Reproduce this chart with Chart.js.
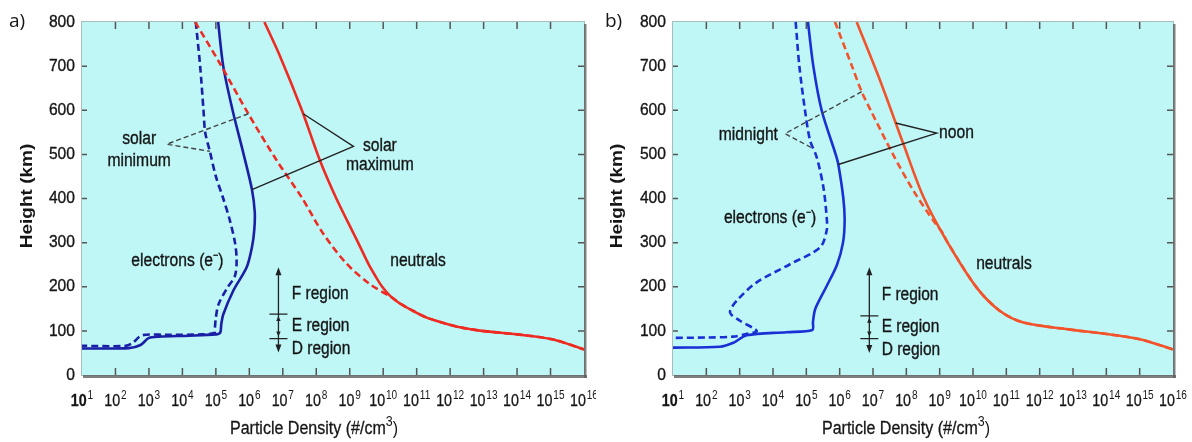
<!DOCTYPE html>
<html lang="pt">
<head>
<meta charset="utf-8">
<title>Densidade de partículas</title>
<script src="https://cdn.jsdelivr.net/npm/chart.js@4.4.1/dist/chart.umd.min.js"></script>
<style>
  body { margin: 0; background: #ffffff; }
  .painel { position: absolute; top: 0; width: 596px; height: 442px; }
</style>
</head>
<body>
<div class="painel" style="left:0px"><canvas id="graficoA" width="596" height="442"></canvas></div>
<div class="painel" style="left:596px"><canvas id="graficoB" width="596" height="442"></canvas></div>
<script>
// eixo x: expoentes das décadas; eixo y: altura (km)
var expoentesX = [1, 2, 3, 4, 5, 6, 7, 8, 9, 10, 11, 12, 13, 14, 15, 16];
var alturasY = [0, 100, 200, 300, 400, 500, 600, 700, 800];

// a) máximo solar / mínimo solar
var altEletronMax = [800, 700, 600, 500, 420, 370, 330, 290, 244, 191, 137, 115, 96, 92, 89, 87, 84, 68, 61, 60];
var densEletronMax = [1.17e5, 1.66e5, 3.16e5, 6.76e5, 1.2e6, 1.45e6, 1.41e6, 1.2e6, 8.32e5, 3.31e5, 1.66e5, 1.45e5, 1.35e5, 1.0e5, 1.58e4, 2.0e3, 1.0e3, 5.62e2, 2.51e2, 1e1];
var altEletronMin = [800, 700, 600, 550, 507, 450, 400, 350, 300, 262, 225, 195, 160, 130, 105, 96, 92, 91, 90, 72, 66, 66];
var densEletronMin = [2.51e4, 3.39e4, 4.27e4, 4.79e4, 6.61e4, 1.0e5, 1.66e5, 2.63e5, 3.72e5, 4.17e5, 3.72e5, 2.09e5, 1.2e5, 1.0e5, 9.33e4, 9.12e4, 3.98e4, 3.16e3, 6.31e2, 3.16e2, 2.0e2, 1e1];
var altNeutroMax = [800, 722, 600, 486, 400, 300, 250, 220, 200, 180, 162, 145, 130, 118, 108, 100, 92, 81, 58];
var densNeutroMax = [2.82e6, 8.32e6, 3.72e7, 1.29e8, 3.98e8, 1.78e9, 3.72e9, 6.31e9, 9.33e9, 1.58e10, 3.16e10, 7.94e10, 2.0e11, 6.31e11, 2.0e12, 8.9e12, 1.0e14, 1.12e15, 1e16];
var altNeutroMin = [800, 706, 592, 486, 403, 320, 252, 206, 176, 160, 145, 130, 118, 108, 100, 92, 81, 58];
var densNeutroMin = [2.4e4, 1.32e5, 9.33e5, 6.61e6, 3.63e7, 1.62e8, 8.13e8, 3.98e9, 1.78e10, 3.55e10, 7.94e10, 2.0e11, 6.31e11, 2.0e12, 8.9e12, 1.0e14, 1.12e15, 1e16];

// b) meio-dia / meia-noite
var altEletronDia = [800, 700, 600, 500, 477, 400, 350, 300, 250, 200, 150, 120, 102, 97, 90, 73, 64, 62];
var densEletronDia = [1.12e5, 1.62e5, 2.88e5, 7.59e5, 9.12e5, 1.29e6, 1.41e6, 1.26e6, 8.32e5, 3.98e5, 1.86e5, 1.58e5, 1.51e5, 2.57e4, 1.62e3, 6.46e2, 2.51e2, 1e1];
var altEletronNoite = [800, 700, 600, 532, 494, 426, 358, 327, 289, 251, 210, 168, 142, 123, 100, 93, 87, 85, 84];
var densEletronNoite = [4.79e4, 6.17e4, 9.12e4, 1.29e5, 2.04e5, 3.24e5, 4.07e5, 4.07e5, 2.57e5, 3.24e4, 3.24e3, 8.13e2, 5.13e2, 1.02e3, 3.24e3, 1.58e3, 6.31e2, 1e2, 1e1];
var altNeutroDia = [800, 668, 524, 404, 304, 198, 145, 119, 104, 93, 81, 58];
var densNeutroDia = [3.24e6, 1.62e7, 8.13e7, 3.24e8, 1.62e9, 1.29e10, 6.46e10, 3.24e11, 6.46e12, 1.02e14, 1.02e15, 1e16];
var altNeutroNoite = [800, 700, 642, 600, 500, 418, 350, 320, 304, 198, 145, 119, 104, 93, 81, 58];
var densNeutroNoite = [7.24e5, 2.34e6, 4.57e6, 8.51e6, 3.98e7, 1.62e8, 6.46e8, 1.29e9, 1.62e9, 1.29e10, 6.46e10, 3.24e11, 6.46e12, 1.02e14, 1.02e15, 1e16];

var fonte = '"Liberation Sans", Arial, sans-serif';
var corFundo = '#bff7f7';
var corTexto = '#161616';

function serie(alturas, densidades, cor, tracejado) {
    var pontos = [];
    for (var i = 0; i < alturas.length; i++) {
        pontos.push({ x: densidades[i], y: alturas[i] });
    }
    return {
        data: pontos,
        borderColor: cor,
        borderWidth: 2.6,
        borderDash: tracejado ? [7, 4] : [],
        pointRadius: 0,
        tension: 0.3,
        fill: false
    };
}

// texto com compressão horizontal (e um contorno fino para engrossar)
function texto(ctx, s, x, y, tam, alinhar, esc, peso) {
    ctx.save();
    ctx.font = (peso || '') + ' ' + tam + 'px ' + fonte;
    ctx.textBaseline = 'middle';
    ctx.textAlign = 'left';
    var w = ctx.measureText(s).width * esc;
    var x0 = x;
    if (alinhar == 'center') x0 = x - w / 2;
    if (alinhar == 'right') x0 = x - w;
    ctx.translate(x0, y);
    ctx.scale(esc, 1);
    ctx.fillStyle = corTexto;
    ctx.strokeStyle = corTexto;
    ctx.lineWidth = 0.35;
    ctx.fillText(s, 0, 0);
    ctx.strokeText(s, 0, 0);
    ctx.restore();
}

function rotuloX(ctx, px, y, n) {
    var esc = 0.84;
    ctx.save();
    ctx.font = (n == 1 ? 'bold ' : '') + '17px ' + fonte;
    var wb = ctx.measureText('10').width;
    ctx.font = '12px ' + fonte;
    var we = ctx.measureText(String(n)).width;
    var total = (wb + we + 1) * esc;
    ctx.translate(px - total / 2, y);
    ctx.scale(esc, 1);
    ctx.textBaseline = 'alphabetic';
    ctx.fillStyle = corTexto;
    ctx.strokeStyle = corTexto;
    ctx.lineWidth = 0.3;
    ctx.font = (n == 1 ? 'bold ' : '') + '17px ' + fonte;
    ctx.fillText('10', 0, 0);
    ctx.strokeText('10', 0, 0);
    ctx.font = '12px ' + fonte;
    ctx.fillText(String(n), wb + 1, -7);
    ctx.restore();
}

function seta(ctx, x, y, dir, meia, alt) {
    ctx.beginPath();
    ctx.moveTo(x, y);
    ctx.lineTo(x - meia, y - dir * alt);
    ctx.lineTo(x + meia, y - dir * alt);
    ctx.closePath();
    ctx.fill();
}

function desenhaNotas(chart, notas) {
    var ctx = chart.ctx;
    var sx = chart.scales.x, sy = chart.scales.y;
    var px = function (v) { return sx.getPixelForValue(v); };
    var py = function (v) { return sy.getPixelForValue(v); };

    ctx.save();
    // linhas de chamada
    notas.chamadas.forEach(function (c) {
        ctx.beginPath();
        ctx.strokeStyle = c.tracejada ? '#444' : '#222';
        ctx.lineWidth = 1.4;
        ctx.setLineDash(c.tracejada ? [5, 3] : []);
        ctx.moveTo(px(c.ponta[0]), py(c.ponta[1]));
        ctx.lineTo(px(c.vertice[0]), py(c.vertice[1]));
        ctx.lineTo(px(c.outra[0]), py(c.outra[1]));
        ctx.stroke();
    });
    ctx.setLineDash([]);

    notas.textos.forEach(function (t) {
        texto(ctx, t.s, px(t.x), py(t.y), 18, t.al, 0.87);
    });

    // regiões F, E, D
    var r = notas.regiao;
    var xr = px(r.x);
    ctx.strokeStyle = '#222';
    ctx.fillStyle = '#222';
    ctx.lineWidth = 1.3;
    ctx.beginPath();
    ctx.moveTo(xr, py(r.topo) + 4);
    ctx.lineTo(xr, py(r.base) - 4);
    r.cortes.forEach(function (h) {
        ctx.moveTo(xr - 9, py(h));
        ctx.lineTo(xr + 9, py(h));
    });
    ctx.stroke();
    seta(ctx, xr, py(r.topo), -1, 3, 8);
    seta(ctx, xr, py(r.base), 1, 3, 8);
    seta(ctx, xr, py(r.cortes[0]) + 2, -1, 2.2, 5);
    seta(ctx, xr, py(r.cortes[1]) - 2, 1, 2.2, 5);
    texto(ctx, 'F region', px(r.xt), py(r.f), 18, 'left', 0.86);
    texto(ctx, 'E region', px(r.xt), py(r.e), 18, 'left', 0.86);
    texto(ctx, 'D region', px(r.xt), py(r.d), 18, 'left', 0.86);
    ctx.restore();
}

function desenhaMoldura(chart, cfg) {
    var ctx = chart.ctx;
    var a = chart.chartArea;
    var sx = chart.scales.x, sy = chart.scales.y;
    var w = a.right - a.left, h = a.bottom - a.top;

    ctx.save();
    ctx.strokeStyle = '#a9bcbc';
    ctx.lineWidth = 1;
    ctx.strokeRect(a.left - 0.5, a.top - 0.5, w + 1, h + 1);
    ctx.fillStyle = 'rgba(95,95,95,0.8)';
    ctx.fillRect(a.right, a.top + 2, 2.5, h + 1);
    ctx.fillRect(a.left + 1, a.bottom, w + 2, 3);

    // marcas internas
    ctx.strokeStyle = '#555';
    ctx.lineWidth = 1.5;
    ctx.beginPath();
    expoentesX.forEach(function (n) {
        if (n == 1 || n == 16) return;
        var x = sx.getPixelForValue(Math.pow(10, n));
        ctx.moveTo(x, a.top); ctx.lineTo(x, a.top + 7);
        ctx.moveTo(x, a.bottom); ctx.lineTo(x, a.bottom - 7);
    });
    alturasY.forEach(function (v) {
        if (v == 0 || v == 800) return;
        var y = sy.getPixelForValue(v);
        ctx.moveTo(a.left, y); ctx.lineTo(a.left + 5, y);
        ctx.moveTo(a.right, y); ctx.lineTo(a.right - 6, y);
    });
    ctx.stroke();

    // rótulos dos eixos
    alturasY.forEach(function (v) {
        texto(ctx, String(v), a.left - 7, sy.getPixelForValue(v), 17, 'right', 0.92);
    });
    expoentesX.forEach(function (n) {
        rotuloX(ctx, sx.getPixelForValue(Math.pow(10, n)), 406, n);
    });

    ctx.fillStyle = corTexto;
    // título do eixo y
    ctx.save();
    ctx.translate(cfg.tituloY, 196);
    ctx.rotate(-Math.PI / 2);
    ctx.scale(1, 0.85);
    ctx.font = 'bold 19px ' + fonte;
    ctx.textAlign = 'center';
    ctx.textBaseline = 'middle';
    ctx.fillText('Height (km)', 0, 0);
    ctx.restore();

    // título do eixo x com expoente
    ctx.save();
    var esc = 0.89;
    ctx.font = '18px ' + fonte;
    var p1 = 'Particle Density (#/cm';
    var w1 = ctx.measureText(p1).width;
    ctx.font = '14px ' + fonte;
    var w2 = ctx.measureText('3').width;
    ctx.font = '18px ' + fonte;
    var w3 = ctx.measureText(')').width;
    var total = (w1 + w2 + w3) * esc;
    ctx.translate(cfg.tituloX - total / 2, 434);
    ctx.scale(esc, 1);
    ctx.textBaseline = 'alphabetic';
    ctx.strokeStyle = corTexto;
    ctx.lineWidth = 0.3;
    ctx.fillText(p1, 0, 0);
    ctx.strokeText(p1, 0, 0);
    ctx.fillText(')', w1 + w2, 0);
    ctx.font = '14px ' + fonte;
    ctx.fillText('3', w1, -8);
    ctx.restore();

    // letra do painel
    ctx.font = '19px "Open Sans", ' + fonte;
    ctx.textBaseline = 'middle';
    ctx.textAlign = 'left';
    ctx.fillText(cfg.letra, 9, 22);
    ctx.restore();
}

function criarGrafico(id, series, cfg, notas) {
    var fundo = {
        id: 'fundo',
        beforeDatasetsDraw: function (chart) {
            var a = chart.chartArea;
            chart.ctx.save();
            chart.ctx.fillStyle = corFundo;
            chart.ctx.fillRect(a.left, a.top, a.right - a.left, a.bottom - a.top);
            chart.ctx.restore();
        },
        afterDatasetsDraw: function (chart) {
            desenhaNotas(chart, notas);
            desenhaMoldura(chart, cfg);
        }
    };
    return new Chart(document.getElementById(id).getContext('2d'), {
        type: 'line',
        data: { datasets: series },
        options: {
            responsive: false,
            animation: false,
            events: [],
            layout: { padding: { left: cfg.esq, right: cfg.dir, top: 22, bottom: 67 } },
            scales: {
                x: { type: 'logarithmic', min: 1e1, max: 1e16, display: false },
                y: { type: 'linear', min: 0, max: 800, display: false }
            },
            plugins: { legend: { display: false }, tooltip: { enabled: false } }
        },
        plugins: [fundo]
    });
}

var azulA = '#1a1fa6', vermelhoA = '#ee2b22';
var azulB = '#1a30d4', vermelhoB = '#f2532b';

criarGrafico('graficoA', [
    serie(altNeutroMin, densNeutroMin, vermelhoA, true),
    serie(altNeutroMax, densNeutroMax, vermelhoA, false),
    serie(altEletronMin, densEletronMin, azulA, true),
    serie(altEletronMax, densEletronMax, azulA, false)
], { esq: 82, dir: 12, tituloY: 28, tituloX: 314, letra: 'a)' }, {
    chamadas: [
        { tracejada: true, ponta: [9.33e5, 592], vertice: [3.39e3, 523], outra: [6.61e4, 507] },
        { tracejada: false, ponta: [4.07e7, 592], vertice: [1.29e9, 518], outra: [1.2e6, 420] }
    ],
    textos: [
        { s: 'solar', x: 5.1e2, y: 534, al: 'center' },
        { s: 'minimum', x: 5.1e2, y: 486, al: 'center' },
        { s: 'solar', x: 7.94e9, y: 520, al: 'center' },
        { s: 'maximum', x: 7.94e9, y: 475, al: 'center' },
        { s: 'electrons (e\u207B)', x: 7.08e3, y: 259, al: 'center' },
        { s: 'neutrals', x: 1.1e11, y: 259, al: 'center' }
    ],
    regiao: { x: 7.41e6, topo: 244, base: 51, cortes: [138, 82.5], xt: 1.86e7, f: 183, e: 111, d: 58 }
});

criarGrafico('graficoB', [
    serie(altNeutroNoite, densNeutroNoite, vermelhoB, true),
    serie(altNeutroDia, densNeutroDia, vermelhoB, false),
    serie(altEletronNoite, densEletronNoite, azulB, true),
    serie(altEletronDia, densEletronDia, azulB, false)
], { esq: 77, dir: 19, tituloY: 22, tituloX: 310, letra: 'b)' }, {
    chamadas: [
        { tracejada: true, ponta: [4.57e6, 642], vertice: [2.29e4, 547], outra: [1.62e5, 513] },
        { tracejada: false, ponta: [4.79e7, 571], vertice: [8.13e8, 548], outra: [9.12e5, 477] }
    ],
    textos: [
        { s: 'midnight', x: 1.41e4, y: 543, al: 'right' },
        { s: 'noon', x: 9.55e8, y: 548, al: 'left' },
        { s: 'electrons (e\u207B)', x: 8.13e3, y: 355, al: 'center' },
        { s: 'neutrals', x: 8.51e10, y: 252, al: 'center' }
    ],
    regiao: { x: 7.76e6, topo: 244, base: 50, cortes: [134, 82.5], xt: 1.82e7, f: 182, e: 109, d: 57 }
});
</script>
</body>
</html>
